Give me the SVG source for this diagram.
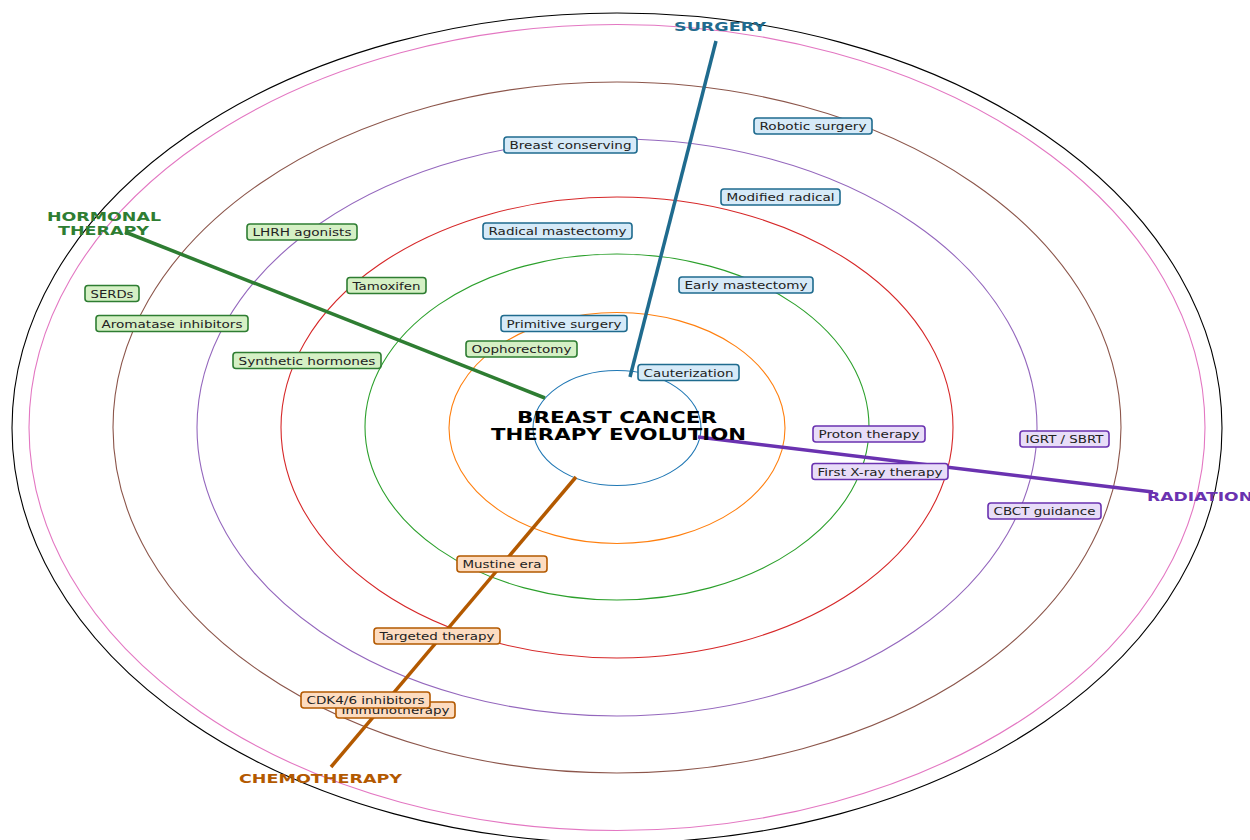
<svg xmlns="http://www.w3.org/2000/svg" width="1250" height="840" viewBox="0 0 1250 840">
<style>
.ring{fill:none;stroke-width:1.1}
.ax{stroke-width:3.5;stroke-linecap:butt;fill:none}
.lbl{font-family:"DejaVu Sans","Liberation Sans",sans-serif;font-size:11px;fill:#222;text-anchor:middle}
.box{stroke-width:1.6}
.s .box{fill:#d6eaf8;stroke:#1f6b8e}
.h .box{fill:#d5f0c5;stroke:#2e7d32}
.r .box{fill:#e8ddf8;stroke:#6a32b0}
.c .box{fill:#fddcc0;stroke:#b35900}
.axl{font-family:"DejaVu Sans","Liberation Sans",sans-serif;font-size:13px;font-weight:bold;text-anchor:middle}
.title{font-family:"DejaVu Sans","Liberation Sans",sans-serif;font-size:15.5px;font-weight:bold;fill:#000;text-anchor:middle}
</style>
<rect width="1250" height="840" fill="#fff"/>
<g id="rings">
<ellipse class="ring" cx="617" cy="428" rx="84" ry="57.5" stroke="#1f77b4"/>
<ellipse class="ring" cx="617" cy="428" rx="168" ry="115.5" stroke="#ff7f0e"/>
<ellipse class="ring" cx="617" cy="427" rx="252" ry="173" stroke="#2ca02c"/>
<ellipse class="ring" cx="617" cy="427.5" rx="336" ry="230.5" stroke="#d62728"/>
<ellipse class="ring" cx="617" cy="427.5" rx="420" ry="288.5" stroke="#9467bd"/>
<ellipse class="ring" cx="617" cy="427.5" rx="504" ry="345.5" stroke="#8c564b"/>
<ellipse class="ring" cx="617" cy="427.5" rx="588" ry="403" stroke="#e377c2"/>
<ellipse class="ring" cx="617" cy="428" rx="605" ry="415" stroke="#000"/>
</g>
<g id="connectors">
<line class="ax" x1="630" y1="377" x2="716" y2="41" stroke="#1f6b8e"/>
<line class="ax" x1="545" y1="398" x2="125" y2="232" stroke="#2e7d32"/>
<line class="ax" x1="698" y1="437" x2="1153" y2="492" stroke="#6a32b0"/>
<line class="ax" x1="576" y1="477" x2="331" y2="767" stroke="#b35900"/>
</g>
<g id="title">
<text class="title" x="617" y="423" textLength="200" lengthAdjust="spacingAndGlyphs">BREAST CANCER</text>
<text class="title" x="618.5" y="440" textLength="255" lengthAdjust="spacingAndGlyphs">THERAPY EVOLUTION</text>
</g>
<g id="axis-labels">
<text class="axl" x="720" y="31" fill="#1f6b8e" textLength="92" lengthAdjust="spacingAndGlyphs">SURGERY</text>
<text class="axl" x="104" y="221" fill="#2e7d32" textLength="114" lengthAdjust="spacingAndGlyphs">HORMONAL</text>
<text class="axl" x="103.5" y="235" fill="#2e7d32" textLength="91" lengthAdjust="spacingAndGlyphs">THERAPY</text>
<text class="axl" x="1147" y="501" fill="#6a32b0" style="text-anchor:start" textLength="106" lengthAdjust="spacingAndGlyphs">RADIATION</text>
<text class="axl" x="320.5" y="783" fill="#b35900" textLength="163" lengthAdjust="spacingAndGlyphs">CHEMOTHERAPY</text>
</g>
<g id="surgery-nodes" class="s">
<g id="n-robotic"><rect class="box" x="754" y="118" width="118" height="16" rx="3"/><text class="lbl" x="813" y="130" textLength="107" lengthAdjust="spacingAndGlyphs">Robotic surgery</text></g>
<g id="n-modified"><rect class="box" x="721" y="189" width="119" height="16" rx="3"/><text class="lbl" x="780.5" y="201" textLength="108" lengthAdjust="spacingAndGlyphs">Modified radical</text></g>
<g id="n-breastcons"><rect class="box" x="504" y="137" width="133" height="16" rx="3"/><text class="lbl" x="570.5" y="149" textLength="122" lengthAdjust="spacingAndGlyphs">Breast conserving</text></g>
<g id="n-radical"><rect class="box" x="483" y="223" width="149" height="16" rx="3"/><text class="lbl" x="557.5" y="235" textLength="138" lengthAdjust="spacingAndGlyphs">Radical mastectomy</text></g>
<g id="n-early"><rect class="box" x="679" y="277" width="134" height="16" rx="3"/><text class="lbl" x="746" y="289" textLength="123" lengthAdjust="spacingAndGlyphs">Early mastectomy</text></g>
<g id="n-primitive"><rect class="box" x="501" y="315.5" width="126" height="16" rx="3"/><text class="lbl" x="564" y="327.5" textLength="115" lengthAdjust="spacingAndGlyphs">Primitive surgery</text></g>
<g id="n-cauter"><rect class="box" x="638" y="364.5" width="101" height="16" rx="3"/><text class="lbl" x="688.5" y="376.5" textLength="90" lengthAdjust="spacingAndGlyphs">Cauterization</text></g>
</g>
<g id="hormonal-nodes" class="h">
<g id="n-lhrh"><rect class="box" x="247" y="224" width="110" height="16" rx="3"/><text class="lbl" x="302" y="236" textLength="99" lengthAdjust="spacingAndGlyphs">LHRH agonists</text></g>
<g id="n-tamox"><rect class="box" x="347" y="277.5" width="79" height="16" rx="3"/><text class="lbl" x="386.5" y="289.5" textLength="68" lengthAdjust="spacingAndGlyphs">Tamoxifen</text></g>
<g id="n-serds"><rect class="box" x="85" y="285.5" width="54" height="16" rx="3"/><text class="lbl" x="112" y="297.5" textLength="43" lengthAdjust="spacingAndGlyphs">SERDs</text></g>
<g id="n-aromatase"><rect class="box" x="96" y="315.5" width="152" height="16" rx="3"/><text class="lbl" x="172" y="327.5" textLength="141" lengthAdjust="spacingAndGlyphs">Aromatase inhibitors</text></g>
<g id="n-synthetic"><rect class="box" x="233" y="352.5" width="148" height="16" rx="3"/><text class="lbl" x="307" y="364.5" textLength="137" lengthAdjust="spacingAndGlyphs">Synthetic hormones</text></g>
<g id="n-oophor"><rect class="box" x="466" y="341" width="111" height="16" rx="3"/><text class="lbl" x="521.5" y="353" textLength="100" lengthAdjust="spacingAndGlyphs">Oophorectomy</text></g>
</g>
<g id="radiation-nodes" class="r">
<g id="n-proton"><rect class="box" x="813" y="426" width="112" height="16" rx="3"/><text class="lbl" x="869" y="438" textLength="101" lengthAdjust="spacingAndGlyphs">Proton therapy</text></g>
<g id="n-igrt"><rect class="box" x="1020" y="431" width="89" height="16" rx="3"/><text class="lbl" x="1064.5" y="443" textLength="78" lengthAdjust="spacingAndGlyphs">IGRT / SBRT</text></g>
<g id="n-xray"><rect class="box" x="812" y="463.5" width="136" height="16" rx="3"/><text class="lbl" x="880" y="475.5" textLength="125" lengthAdjust="spacingAndGlyphs">First X-ray therapy</text></g>
<g id="n-cbct"><rect class="box" x="988" y="503" width="113" height="16" rx="3"/><text class="lbl" x="1044.5" y="515" textLength="102" lengthAdjust="spacingAndGlyphs">CBCT guidance</text></g>
</g>
<g id="chemo-nodes" class="c">
<g id="n-mustine"><rect class="box" x="457" y="556" width="90" height="16" rx="3"/><text class="lbl" x="502" y="568" textLength="79" lengthAdjust="spacingAndGlyphs">Mustine era</text></g>
<g id="n-targeted"><rect class="box" x="374" y="628" width="126" height="16" rx="3"/><text class="lbl" x="437" y="640" textLength="115" lengthAdjust="spacingAndGlyphs">Targeted therapy</text></g>
<g id="n-immuno"><rect class="box" x="336" y="702" width="119" height="16" rx="3"/><text class="lbl" x="395.5" y="714" textLength="108" lengthAdjust="spacingAndGlyphs">Immunotherapy</text></g>
<g id="n-cdk"><rect class="box" x="301" y="692" width="129" height="16" rx="3"/><text class="lbl" x="365.5" y="704" textLength="118" lengthAdjust="spacingAndGlyphs">CDK4/6 inhibitors</text></g>
</g>
</svg>
